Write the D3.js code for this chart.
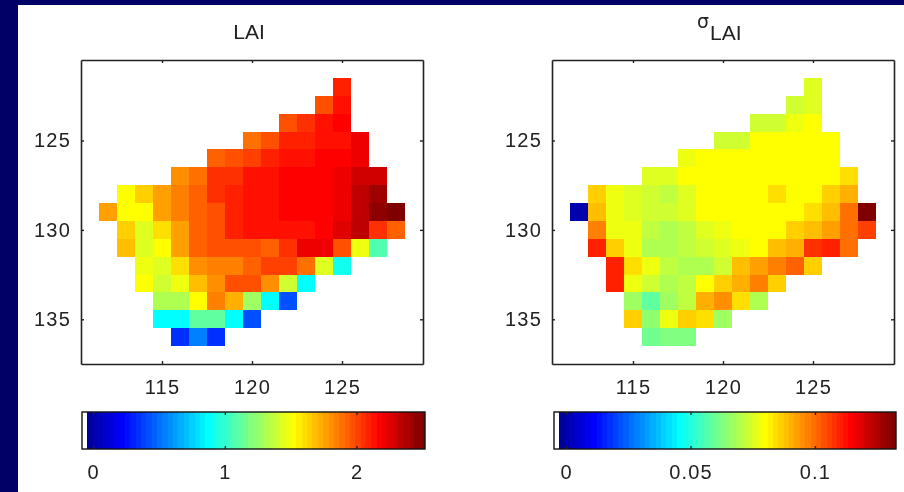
<!DOCTYPE html>
<html>
<head>
<meta charset="utf-8">
<title>LAI</title>
<script src="https://cdn.jsdelivr.net/npm/d3@7"></script>
<style>
  html, body { margin: 0; padding: 0; background: #000066; }
  svg { display: block; filter: blur(0.45px); }
  text { font-family: "Liberation Sans", Arial, sans-serif; font-size: 20px; fill: #222; }
  .tick text { letter-spacing: 1.2px; }
  .domain, .tick line { stroke: #222; }
</style>
</head>
<body>
<div id="chart"></div>
<script>
const _ = null;

const cols = d3.range(112, 129);
const rows = d3.range(122, 137);

const lonTicks = [115, 120, 125];
const latTicks = [125, 130, 135];

const laiTicks = [0, 1, 2];
const sigmaTicks = [0, 0.05, 0.1];
const sigmaTickLabels = ['0', '0.05', '0.1'];

// one row per latitude, columns 112..128
const laiValues = [
  [_,_,_,_,_,_,_,_,_,_,_,_,_,2.11,_,_,_],
  [_,_,_,_,_,_,_,_,_,_,_,_,1.99,2.15,_,_,_],
  [_,_,_,_,_,_,_,_,_,_,1.99,2.04,2.12,2.16,_,_,_],
  [_,_,_,_,_,_,_,_,1.88,1.98,2.08,2.10,2.14,2.15,2.23,_,_],
  [_,_,_,_,_,_,1.94,1.97,2.03,2.11,2.14,2.15,2.17,2.17,2.21,_,_],
  [_,_,_,_,1.82,1.89,2.05,2.05,2.12,2.14,2.17,2.18,2.19,2.21,2.28,2.30,_],
  [_,1.54,1.66,1.76,1.84,1.94,2.05,2.11,2.15,2.15,2.18,2.19,2.19,2.21,2.33,2.40,_],
  [1.76,1.54,1.54,1.77,1.86,1.95,1.98,2.11,2.14,2.15,2.17,2.17,2.18,2.21,2.33,2.46,2.49],
  [_,1.64,1.43,1.60,1.78,1.95,1.98,2.08,2.14,2.15,2.14,2.13,2.19,2.24,2.32,2.07,1.93],
  [_,1.68,1.43,1.54,1.77,1.95,1.98,1.99,1.98,1.95,2.07,2.21,2.21,1.98,1.50,1.08,_],
  [_,_,1.50,1.43,1.62,1.80,1.84,1.84,1.92,2.02,2.03,1.88,1.46,0.92,_,_,_],
  [_,_,1.54,1.40,1.48,1.68,1.82,1.97,1.98,1.82,1.40,0.89,_,_,_,_,_],
  [_,_,_,1.30,1.30,1.54,1.84,1.72,1.28,0.87,0.42,_,_,_,_,_,_],
  [_,_,_,0.89,0.89,1.10,1.10,0.89,0.44,_,_,_,_,_,_,_,_],
  [_,_,_,_,0.35,0.55,0.35,_,_,_,_,_,_,_,_,_,_]
];

const sigmaValues = [
  [_,_,_,_,_,_,_,_,_,_,_,_,_,.0759,_,_,_],
  [_,_,_,_,_,_,_,_,_,_,_,_,.0745,.0759,_,_,_],
  [_,_,_,_,_,_,_,_,_,_,.0745,.0745,.078,.0795,_,_,_],
  [_,_,_,_,_,_,_,_,.0745,.0745,.079,.080,.080,.081,.0795,_,_],
  [_,_,_,_,_,_,.078,.079,.079,.080,.081,.081,.081,.081,.081,_,_],
  [_,_,_,_,.0759,.0759,.079,.081,.081,.081,.081,.079,.080,.081,.081,.0852,_],
  [_,.0863,.078,.0759,.0737,.0715,.075,.079,.081,.081,.081,.0845,.081,.081,.0873,.0917,_],
  [.0006,.0884,.078,.0759,.0737,.0737,.0759,.079,.081,.081,.081,.081,.081,.0845,.0875,.0992,.1305],
  [_,.0981,.078,.077,.0715,.07,.072,.0759,.078,.080,.081,.081,.0863,.0895,.0938,.1003,.106],
  [_,.11,.0863,.078,.0694,.07,.0715,.0737,.0759,.078,.081,.0884,.0917,.1073,.109,.0992,_],
  [_,_,.111,.0841,.077,.0715,.07,.07,.0737,.0884,.0938,.0981,.1019,.0858,_,_,_],
  [_,_,.109,.078,.0737,.07,.0715,.081,.0873,.0917,.0981,.0863,_,_,_,_,_],
  [_,_,_,.0661,.0575,.0675,.0715,.0917,.0949,.0852,.07,_,_,_,_,_,_],
  [_,_,_,.0858,.0639,.077,.0873,.0852,.0675,_,_,_,_,_,_,_,_],
  [_,_,_,_,.0596,.0618,.0618,_,_,_,_,_,_,_,_,_,_]
];

const svgWidth = 904;
const svgHeight = 492;
const levels = 64;

// matlab style jet, first level left white for the empty cells
function jet(i) {
  if (i === 0) return '#fff';
  const t = (i + 1) / levels;
  const band = c => Math.round(255 * Math.max(0, Math.min(1, 1.5 - Math.abs(4 * t - c))));
  return `rgb(${band(3)},${band(2)},${band(1)})`;
}

const svg = d3.select('#chart')
  .append('svg')
  .attr('width', svgWidth)
  .attr('height', svgHeight);

svg.append('rect')
  .attr('x', 18)
  .attr('y', 5)
  .attr('width', svgWidth - 18)
  .attr('height', svgHeight - 5)
  .attr('fill', '#fff');

function drawPanel(opts) {
  const x = d3.scaleLinear().domain([110.5, 129.5]).range([opts.left, opts.left + 342]);
  const y = d3.scaleLinear().domain([120.5, 137.5]).range([60, 364]);
  const c = d3.scaleLinear().domain(opts.range).range([opts.barLeft, opts.barRight]);
  const level = d3.scaleQuantize().domain(opts.range).range(d3.range(levels));

  const cells = [];
  opts.values.forEach((row, r) => row.forEach((v, i) => {
    if (v !== null) cells.push({ lon: cols[i], lat: rows[r], value: v });
  }));

  svg.append('g')
    .selectAll('rect')
    .data(cells)
    .enter().append('rect')
    .attr('x', d => x(d.lon - 0.5))
    .attr('y', d => y(d.lat - 0.5))
    .attr('width', d => x(d.lon + 0.5) - x(d.lon - 0.5))
    .attr('height', d => y(d.lat + 0.5) - y(d.lat - 0.5))
    .attr('fill', d => jet(level(d.value)))
    .attr('shape-rendering', 'crispEdges');

  // ticks point inwards on all four sides
  const frame = [
    ['translate(0,364)', d3.axisBottom(x).tickValues(lonTicks).tickFormat(d3.format('d')).tickSizeOuter(0)],
    ['translate(0,60)', d3.axisTop(x).tickValues(lonTicks).tickFormat('').tickSizeOuter(0)],
    [`translate(${x.range()[0]},0)`, d3.axisLeft(y).tickValues(latTicks).tickFormat(d3.format('d')).tickSizeOuter(0)],
    [`translate(${x.range()[1]},0)`, d3.axisRight(y).tickValues(latTicks).tickFormat('').tickSizeOuter(0)]
  ];
  frame.forEach(([transform, axis], i) => {
    const g = svg.append('g')
      .attr('transform', transform)
      .call(axis.tickSizeInner(i % 3 === 0 ? -3 : 3).tickPadding(i === 0 ? 16 : 0));
    if (i === 1) g.selectAll('.tick line').attr('y2', 3);
    if (i === 2) {
      g.selectAll('.tick line').attr('x2', 3);
      g.selectAll('text').attr('x', -10);
    }
    if (i === 3) g.selectAll('.tick line').attr('x2', -3);
    g.selectAll('.domain').attr('stroke-width', 1.6);
    g.selectAll('.tick line').attr('stroke-width', 1.4);
  });

  // colour bar
  svg.append('g')
    .selectAll('rect')
    .data(d3.range(levels))
    .enter().append('rect')
    .attr('x', d => c(level.invertExtent(d)[0]))
    .attr('y', 412)
    .attr('width', d => c(level.invertExtent(d)[1]) - c(level.invertExtent(d)[0]))
    .attr('height', 37)
    .attr('fill', d => jet(d))
    .attr('shape-rendering', 'crispEdges');

  svg.append('rect')
    .attr('x', opts.barLeft)
    .attr('y', 412)
    .attr('width', opts.barRight - opts.barLeft)
    .attr('height', 37)
    .attr('fill', 'none')
    .attr('stroke', '#111')
    .attr('stroke-width', 1.4);

  const barAxis = svg.append('g')
    .attr('transform', 'translate(0,449)')
    .call(d3.axisBottom(c)
      .tickValues(opts.ticks)
      .tickFormat((d, i) => opts.labels[i])
      .tickSizeOuter(0)
      .tickSizeInner(-3)
      .tickPadding(16));
  barAxis.select('.domain').remove();
  barAxis.selectAll('.tick line').attr('stroke', '#111').attr('stroke-width', 1.4);

  const barTop = svg.append('g')
    .attr('transform', 'translate(0,412)')
    .call(d3.axisTop(c).tickValues(opts.ticks).tickFormat('').tickSizeOuter(0).tickSizeInner(3));
  barTop.select('.domain').remove();
  barTop.selectAll('.tick line').attr('y2', 3).attr('stroke', '#111').attr('stroke-width', 1.4);
}

drawPanel({
  left: 81,
  values: laiValues,
  range: [-0.085, 2.52],
  barLeft: 82,
  barRight: 425,
  ticks: laiTicks,
  labels: laiTicks.map(String)
});

drawPanel({
  left: 552,
  values: sigmaValues,
  range: [-0.0049, 0.1326],
  barLeft: 554,
  barRight: 896,
  ticks: sigmaTicks,
  labels: sigmaTickLabels
});

svg.append('text')
  .attr('x', 249)
  .attr('y', 39)
  .attr('text-anchor', 'middle')
  .style('font-size', '21px')
  .text('LAI');

const sigmaTitle = svg.append('text')
  .attr('x', 697)
  .attr('y', 28)
  .style('font-size', '21px');
sigmaTitle.append('tspan').style('font-family', 'DejaVu Sans').style('font-size', '19px').text('σ');
sigmaTitle.append('tspan').attr('dy', 12).attr('dx', 1).text('LAI');
</script>
</body>
</html>
